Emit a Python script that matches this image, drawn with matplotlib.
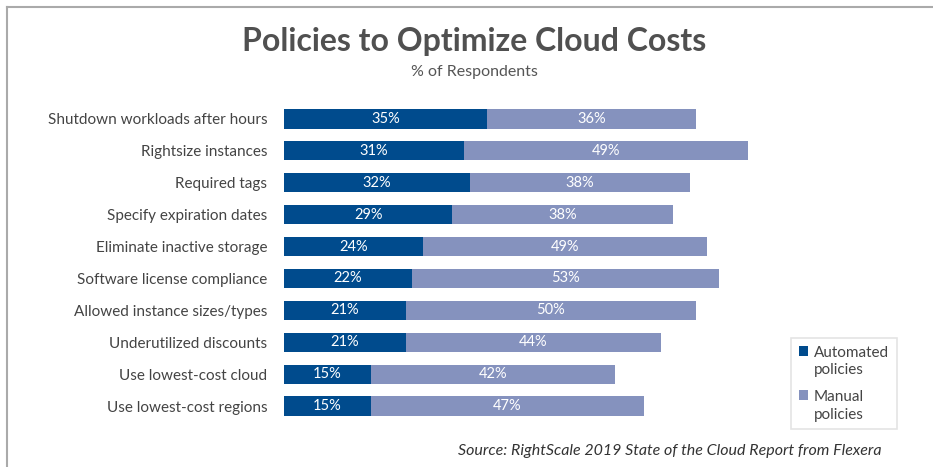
import matplotlib
matplotlib.use('Agg')
import matplotlib.pyplot as plt
from matplotlib.patches import Patch, Rectangle
from matplotlib.legend_handler import HandlerPatch
from matplotlib.lines import Line2D
import numpy as np

plt.rcParams['font.family'] = ['Lato', 'DejaVu Sans']

# data
categories = ['Shutdown workloads after hours', 'Rightsize instances', 'Required tags',
              'Specify expiration dates', 'Eliminate inactive storage',
              'Software license compliance', 'Allowed instance sizes/types',
              'Underutilized discounts', 'Use lowest-cost cloud', 'Use lowest-cost regions']
automated = [35, 31, 32, 29, 24, 22, 21, 21, 15, 15]
manual = [36, 49, 38, 38, 49, 53, 50, 44, 42, 47]
series_names = ['Automated\npolicies', 'Manual\npolicies']
colors = ['#004b8d', '#8592be']

W, H = 933, 467
fig = plt.figure(figsize=(W / 100, H / 100), dpi=100)

# axes placed in pixel terms: x=0 at 284px, 5.8px per %
ax = fig.add_axes([284 / W, (H - 422) / H, 580 / W, 319 / H])
y = np.arange(len(categories))
b1 = ax.barh(y, automated, height=0.6, color=colors[0])
b2 = ax.barh(y, manual, left=automated, height=0.6, color=colors[1])
ax.set_xlim(0, 100)
ax.set_ylim(len(categories) - 0.5, -0.5)

for bars in (b1, b2):
    ax.bar_label(bars, labels=[f'{int(v)}%' for v in bars.datavalues],
                 label_type='center', color='white', fontsize=10.5)

ax.set_yticks(y)
ax.set_yticklabels(categories, fontsize=11, color='#444444')
ax.tick_params(axis='y', length=0, pad=12)
ax.set_xticks([])
for s in ax.spines.values():
    s.set_visible(False)

# frame lines (top and left)
fig.add_artist(Line2D([7 / W, 1], [1 - 7 / H, 1 - 7 / H], color='#aaaaaa', lw=1.5))
fig.add_artist(Line2D([7 / W, 7 / W], [0, 1 - 7 / H], color='#aaaaaa', lw=1.5))

fig.text(474 / W, 1 - 42 / H, 'Policies to Optimize Cloud Costs', ha='center', va='center',
         fontsize=23, fontweight='bold', color='#505050')
fig.text(474 / W, 1 - 72 / H, '% of Respondents', ha='center', va='center',
         fontsize=11.5, color='#555555')
fig.text(882 / W, 1 - 451 / H, 'Source: RightScale 2019 State of the Cloud Report from Flexera',
         ha='right', va='center', fontsize=11.5, style='italic', color='#333333')


# square sits next to the first line of the label
def top_square(legend, orig_handle, xdescent, ydescent, width, height, fontsize):
    return Rectangle((-xdescent, -ydescent + 7.5), width, height)


handles = [Patch(facecolor=c) for c in colors]
leg = fig.legend(handles, series_names, loc='upper left', bbox_to_anchor=(791 / W, 1 - 338 / H),
                 frameon=True, fancybox=False, fontsize=11, handlelength=0.6, handleheight=0.6,
                 handletextpad=0.4, labelspacing=0.8, borderpad=0.5, borderaxespad=0,
                 labelcolor='#444444',
                 handler_map={Patch: HandlerPatch(patch_func=top_square)})
leg.get_frame().set_edgecolor('#dddddd')
leg.get_frame().set_linewidth(1.2)
for t in leg.get_texts():
    t.set_linespacing(1.35)

fig.savefig('out.png', dpi=100)
